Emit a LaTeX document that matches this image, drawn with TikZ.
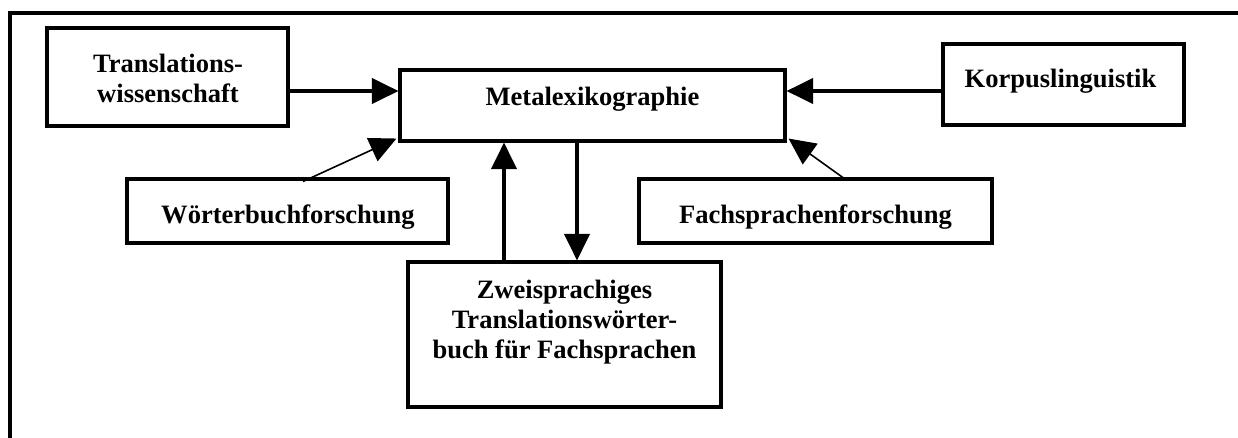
\documentclass[tikz,border=0pt]{standalone}
\usepackage{fontspec}
\setmainfont{Liberation Serif}
\usetikzlibrary{arrows.meta,calc}

\tikzset{
  box/.style={draw, rectangle, line width=2.3pt, inner sep=0pt},
  lbl/.style={font=\bfseries\fontsize{19.9}{22.5}\selectfont, align=center, anchor=base, inner sep=0pt},
  arr/.style={line width=2.5pt, -{Triangle[length=20pt,width=19pt]}},
  diag/.style={line width=1.2pt, -{Triangle[length=20pt,width=19pt]}},
}

\begin{document}
\begin{tikzpicture}[x=0.75pt, y=-0.75pt]
  \useasboundingbox (0,0) rectangle (1238,437);

  % open frame: top and left edges
  \draw[line width=2.3pt] (10,440) -- (10,13) -- (1240,13);

  % boxes
  \node[box, minimum width=180.75pt, minimum height=73.5pt] (trans) at (167.5,77) {};
  \node[box, minimum width=288.75pt, minimum height=53.25pt] (meta) at (592.5,105.5) {};
  \node[box, minimum width=180.75pt, minimum height=60.75pt] (korp) at (1063.5,84.5) {};
  \node[box, minimum width=240.75pt, minimum height=48pt] (wort) at (287.5,211) {};
  \node[box, minimum width=264.75pt, minimum height=48pt] (fach) at (815.5,211) {};
  \node[box, minimum width=234.75pt, minimum height=108.75pt] (zwei) at (564.5,334.5) {};

  % labels (base anchor sits on the last line)
  \node[lbl] (ttrans) at (168,102) {Translations-\\wissenschaft};
  \node[lbl] (tmeta) at (592.5,105) {Metalexikographie};
  \node[lbl] (tkorp) at (1060.5,87) {Korpuslinguistik};
  \node[lbl] (twort) at (288,223) {Wörterbuchforschung};
  \node[lbl] (tfach) at (815.5,223) {Fachsprachenforschung};
  \node[lbl] (tzwei) at (564.5,358) {Zweisprachiges\\Translationswörter-\\buch für Fachsprachen};

  % connector guides
  \coordinate (ya) at (0,91);
  \coordinate (xu) at (504,0);
  \coordinate (xd) at (577,0);

  % connectors
  \draw[arr] (trans.east |- ya) -- (meta.west |- ya);
  \draw[arr] (korp.west |- ya) -- (meta.east |- ya);
  \draw[arr] (zwei.north -| xu) -- (meta.south -| xu);
  \draw[arr] (meta.south -| xd) -- (zwei.north -| xd);
  \draw[diag] ($(wort.north)+(15.5,4)$) -- ($(meta.south west)+(-2,-4)$);
  \draw[diag] ($(fach.north)+(31.5,3)$) -- ($(meta.south east)+(2,-4)$);
\end{tikzpicture}
\end{document}
